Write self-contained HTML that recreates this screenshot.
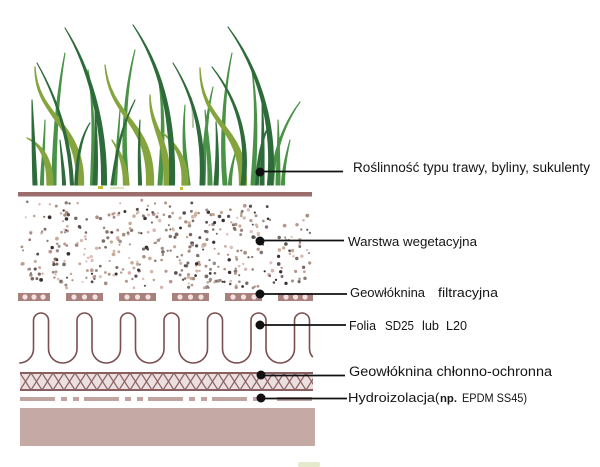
<!DOCTYPE html>
<html>
<head>
<meta charset="utf-8">
<style>
html,body{margin:0;padding:0;background:#fff;}
svg{display:block;}
text{font-family:"Liberation Sans",Arial,sans-serif;fill:#151515;}
</style>
</head>
<body>
<svg width="600" height="467" viewBox="0 0 600 467" xmlns="http://www.w3.org/2000/svg">
<defs>
  <pattern id="hatch" patternUnits="userSpaceOnUse" x="20" y="373" width="11" height="17">
    <path d="M0,0 L11,17 M11,0 L0,17" stroke="#8a5f5f" stroke-width="1.2" fill="none"/>
  </pattern>
</defs>

<!-- GRASS -->
<g stroke-linejoin="round">
  <!-- medium -->
  <g fill="#4a9247" stroke="#4a9247" stroke-width="1.1">
    <path d="M65,53 C57,90 52.2,140 52,185 L56,185 C55.8,140 59,90 65,53Z"/>
    <path d="M88,70 C94.25,110 91.65,150 90.5,185 L93.5,185 C94.35,150 95.75,110 88,70Z"/>
    <path d="M135,50 C124,90 120.2,140 125,185 L129,185 C123.8,140 126,90 135,50Z"/>
    <path d="M157,70 C165,110 160.2,150 158,185 L162,185 C163.8,150 167,110 157,70Z"/>
    <path d="M232,53 C221,100 220.2,150 223,185 L227,185 C223.8,150 223,100 232,53Z"/>
    <path d="M252,70 C257,110 253.2,150 251,185 L255,185 C256.8,150 259,110 252,70Z"/>
    <path d="M300,102 C282.25,125 271.65,155 270.5,185 L273.5,185 C274.35,155 283.75,125 300,102Z"/>
    <path d="M213,87 C204,120 202.2,160 201,185 L205,185 C205.8,160 206,120 213,87Z"/>
    <path d="M120,110 C117.25,140 114.65,165 113.5,185 L116.5,185 C117.35,165 118.75,140 120,110Z"/>
    <path d="M185,105 C181,140 184.2,165 186,185 L190,185 C187.8,165 183,140 185,105Z"/>
    <path d="M290,140 C284.25,160 281.65,175 281.5,185 L284.5,185 C284.35,175 285.75,160 290,140Z"/>
    <path d="M45,120 C43.25,150 40.65,170 40.5,185 L43.5,185 C43.35,170 44.75,150 45,120Z"/>
    <path d="M236,150 C231.25,165 228.65,178 228.5,185 L231.5,185 C231.35,178 232.75,165 236,150Z"/>
    <path d="M205,110 C207,140 208.2,165 208,185 L212,185 C211.8,165 209,140 205,110Z"/>
    <path d="M278,120 C278,150 276.2,170 276,185 L280,185 C279.8,170 280,150 278,120Z"/>
  </g>
  <path d="M191,98 C193,108 193,118 193,127" fill="none" stroke="#b8c4b0" stroke-width="2" stroke-linecap="round"/>
  <!-- olive -->
  <g fill="#85a43e" stroke="#85a43e" stroke-width="1.3">
    <path d="M35,67 C34.25,118 78.85,122 76.5,185 L83.5,185 C85.15,122 37.75,118 35,67Z"/>
    <path d="M27,138 C40.5,145 47.3,160 47,185 L53,185 C52.7,160 43.5,145 27,138Z"/>
    <path d="M105,65 C108.25,120 148.85,120 146.5,185 L153.5,185 C155.15,120 111.75,120 105,65Z"/>
    <path d="M150,95 C148.5,130 165.3,135 164,185 L170,185 C170.7,135 151.5,130 150,95Z"/>
    <path d="M200,68 C199.25,125 240.85,125 239.5,185 L246.5,185 C247.15,125 202.75,125 200,68Z"/>
    <path d="M163,133 C178.5,148 183.3,165 182,185 L188,185 C188.7,165 181.5,148 163,133Z"/>
    <path d="M112,140 C120.75,155 123.75,170 123.5,185 L128.5,185 C128.25,170 123.25,155 112,140Z"/>
  </g>
  <!-- dark -->
  <g fill="#2e6b3a" stroke="#2e6b3a" stroke-width="1.1">
    <path d="M65,28 C86.75,65 102.75,120 101.5,185 L106.5,185 C107.25,120 89.25,65 65,28Z"/>
    <path d="M133,25 C156.75,62 171.75,110 169.5,185 L174.5,185 C176.25,110 159.25,62 133,25Z"/>
    <path d="M37,63 C57.25,100 68.65,140 70.5,185 L73.5,185 C71.35,140 58.75,100 37,63Z"/>
    <path d="M32,100 C32,130 32.2,160 33,185 L37,185 C35.8,160 34,130 32,100Z"/>
    <path d="M90,123 C81.4,135 75.9,155 74.75,185 L77.25,185 C78.1,155 82.6,135 90,123Z"/>
    <path d="M228,27 C254.75,65 273.75,120 267.5,185 L272.5,185 C278.25,120 257.25,65 228,27Z"/>
    <path d="M212,67 C237,100 247.2,140 241,185 L245,185 C250.8,140 239,100 212,67Z"/>
    <path d="M173,63 C195,100 202.2,140 200,185 L204,185 C205.8,140 197,100 173,63Z"/>
    <path d="M270,123 C260.4,140 256.9,160 255.75,185 L258.25,185 C259.1,160 261.6,140 270,123Z"/>
    <path d="M140,120 C137.25,150 138.65,170 138.5,185 L141.5,185 C141.35,170 138.75,150 140,120Z"/>
    <path d="M60,140 C61.25,160 62.65,175 62.5,185 L65.5,185 C65.35,175 62.75,160 60,140Z"/>
    <path d="M135,100 C124.5,120 117.1,140 111,185 L113,185 C118.9,140 125.5,120 135,100Z"/>
    <path d="M262,100 C263,135 260.2,165 260,185 L264,185 C263.8,165 265,135 262,100Z"/>
    <path d="M95,110 C96,140 94.2,165 93,185 L97,185 C97.8,165 98,140 95,110Z"/>
    <path d="M216,122 C217,150 215.2,170 214,185 L218,185 C218.8,170 219,150 216,122Z"/>
  </g>
  <rect x="98" y="186" width="5" height="3" fill="#c8c030"/>
  <rect x="180" y="187" width="3" height="3" fill="#c8c030"/>
  <rect x="110" y="187" width="14" height="2" fill="#dfe6c0"/>
</g>

<!-- top brown line -->
<rect x="18" y="192" width="294" height="4.5" fill="#9b6e6b"/>

<!-- gravel -->
<g id="grav"></g>

<!-- geowloknina filtracyjna blocks -->
<g fill="#a8807c">
  <rect x="18" y="293" width="32" height="8"/>
  <rect x="66" y="293" width="37" height="8"/>
  <rect x="119" y="293" width="37" height="8"/>
  <rect x="172" y="293" width="37" height="8"/>
  <rect x="225" y="293" width="37" height="8"/>
  <rect x="278" y="293" width="35" height="8"/>
</g>
<g fill="#f3e1e4">
  <circle cx="25" cy="297" r="2.6"/><circle cx="34" cy="297" r="2.6"/><circle cx="43" cy="297" r="2.6"/>
  <circle cx="74" cy="297" r="2.6"/><circle cx="84.5" cy="297" r="2.6"/><circle cx="95" cy="297" r="2.6"/>
  <circle cx="127" cy="297" r="2.6"/><circle cx="137.5" cy="297" r="2.6"/><circle cx="148" cy="297" r="2.6"/>
  <circle cx="180" cy="297" r="2.6"/><circle cx="190.5" cy="297" r="2.6"/><circle cx="201" cy="297" r="2.6"/>
  <circle cx="233" cy="297" r="2.6"/><circle cx="243.5" cy="297" r="2.6"/><circle cx="254" cy="297" r="2.6"/>
  <circle cx="286" cy="297" r="2.6"/><circle cx="295.5" cy="297" r="2.6"/><circle cx="305" cy="297" r="2.6"/>
</g>

<!-- folia wave -->
<path d="M19.25,363 A14.25,14.25 0 0 0 33.5,348.75 L33.5,320.5 A7.5,7.5 0 0 1 48.5,320.5 L48.5,348.75
A14.25,14.25 0 0 0 77,348.75 L77,320.5 A7.5,7.5 0 0 1 92,320.5 L92,348.75
A14.25,14.25 0 0 0 120.5,348.75 L120.5,320.5 A7.5,7.5 0 0 1 135.5,320.5 L135.5,348.75
A14.25,14.25 0 0 0 164,348.75 L164,320.5 A7.5,7.5 0 0 1 179,320.5 L179,348.75
A14.25,14.25 0 0 0 207.5,348.75 L207.5,320.5 A7.5,7.5 0 0 1 222.5,320.5 L222.5,348.75
A14.25,14.25 0 0 0 251,348.75 L251,320.5 A7.5,7.5 0 0 1 266,320.5 L266,348.75
A14.25,14.25 0 0 0 294.5,348.75 L294.5,320.5 A7.5,7.5 0 0 1 309.5,320.5 L309.5,349 Q310,355 313,357"
 fill="none" stroke="#7a4f4f" stroke-width="1.6"/>

<!-- crosshatch band -->
<rect x="20" y="373" width="293" height="17" fill="#ecdfe0"/>
<rect x="20" y="373" width="293" height="17" fill="url(#hatch)"/>
<rect x="20" y="372" width="293" height="2" fill="#8a5f5f"/>
<rect x="20" y="389" width="293" height="2" fill="#8a5f5f"/>

<!-- hydroizolacja dashes -->
<g fill="#bfa4a1">
  <rect x="20" y="397" width="35" height="4"/><rect x="61" y="397" width="6" height="4"/><rect x="73" y="397" width="6" height="4"/>
  <rect x="84" y="397" width="35" height="4"/><rect x="125" y="397" width="6" height="4"/><rect x="137" y="397" width="6" height="4"/>
  <rect x="148" y="397" width="35" height="4"/><rect x="189" y="397" width="6" height="4"/><rect x="201" y="397" width="6" height="4"/>
  <rect x="212" y="397" width="35" height="4"/><rect x="253" y="397" width="6" height="4"/>
  <rect x="277" y="397" width="35" height="4"/>
</g>

<!-- bottom slab -->
<rect x="20" y="408" width="295" height="38" fill="#c5a9a5"/>
<rect x="298" y="462" width="22" height="5" rx="2" fill="#e6eacc"/>

<!-- leader lines and dots -->
<g stroke="#111" stroke-width="1.8">
  <line x1="260" y1="171.5" x2="343" y2="171.5"/>
  <line x1="260" y1="240.5" x2="344" y2="240.5"/>
  <line x1="260" y1="294" x2="347" y2="294"/>
  <line x1="260" y1="325" x2="346" y2="325"/>
  <line x1="261" y1="375.5" x2="345" y2="375.5"/>
  <line x1="261" y1="398.5" x2="347" y2="398.5"/>
</g>
<g fill="#111">
  <circle cx="260" cy="172" r="4.5"/>
  <circle cx="260" cy="241" r="4.5"/>
  <circle cx="260" cy="294" r="4.5"/>
  <circle cx="260" cy="325" r="4.5"/>
  <circle cx="261" cy="375" r="4.5"/>
  <circle cx="261" cy="398" r="4.5"/>
</g>

<!-- labels -->
<text x="353" y="172" font-size="13.5" textLength="237" lengthAdjust="spacingAndGlyphs">Roślinność typu trawy, byliny, sukulenty</text>
<text x="348" y="246" font-size="13.3" textLength="129" lengthAdjust="spacingAndGlyphs">Warstwa wegetacyjna</text>
<text x="350" y="297" font-size="13" textLength="75" lengthAdjust="spacingAndGlyphs">Geowłóknina</text>
<text x="438" y="297" font-size="13" textLength="60" lengthAdjust="spacingAndGlyphs">filtracyjna</text>
<text x="349" y="330" font-size="12.8" textLength="27" lengthAdjust="spacingAndGlyphs">Folia</text>
<text x="385" y="330" font-size="12.8" textLength="29" lengthAdjust="spacingAndGlyphs">SD25</text>
<text x="422" y="330" font-size="12.8" textLength="17" lengthAdjust="spacingAndGlyphs">lub</text>
<text x="446" y="330" font-size="12.8" textLength="21" lengthAdjust="spacingAndGlyphs">L20</text>
<text x="349" y="376" font-size="14.2" textLength="203" lengthAdjust="spacingAndGlyphs">Geowłóknina chłonno-ochronna</text>
<text x="348" y="402" font-size="13" textLength="87" lengthAdjust="spacingAndGlyphs">Hydroizolacja</text>
<text x="435" y="402" font-size="13">(</text>
<text x="440" y="402" font-size="11" font-weight="bold" textLength="17" lengthAdjust="spacingAndGlyphs">np.</text>
<text x="462" y="402" font-size="11.5" textLength="65" lengthAdjust="spacingAndGlyphs">EPDM SS45)</text>

<script>
(function(){
  var s = 987654321;
  function r(){ s = (s * 1103515245 + 12345) & 0x7fffffff; return s / 0x7fffffff; }
  var g = document.getElementById('grav');
  var ns = 'http://www.w3.org/2000/svg';
  var cols = ['#5a4f50','#8a7670','#b9978f','#d4b4ac','#3a3030','#a89080','#c8aa98','#7a6a66','#dcc0ba','#9c8c88'];
  var n = 0, tries = 0;
  while (n < 440 && tries < 6000) {
    tries++;
    var x = 20 + r() * 290;
    var y = 200 + r() * 88;
    var p = 1;
    if (y < 212) p *= 0.35;
    if (x < 60 && y < 228) p *= 0.5;
    if (x > 280 && y < 225) p *= 0.6;
    if (r() > p) continue;
    var c = document.createElementNS(ns, 'circle');
    c.setAttribute('cx', x.toFixed(1));
    c.setAttribute('cy', y.toFixed(1));
    c.setAttribute('r', (1.0 + r() * 0.9).toFixed(2));
    c.setAttribute('fill', cols[Math.floor(r() * cols.length)]);
    g.appendChild(c);
    n++;
  }
})();
</script>
</svg>
</body>
</html>
